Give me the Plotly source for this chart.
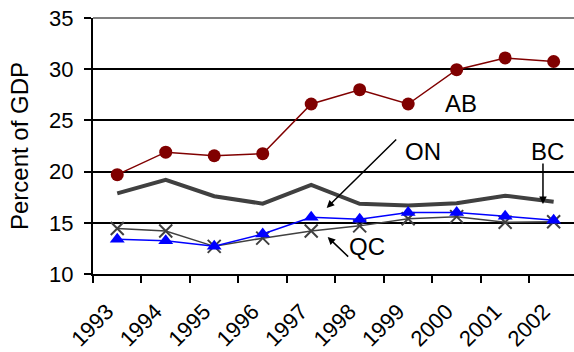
import plotly.graph_objects as go

years = ["1993", "1994", "1995", "1996", "1997", "1998", "1999", "2000", "2001", "2002"]
ab = [19.7, 21.9, 21.55, 21.75, 26.6, 28.0, 26.6, 29.95, 31.1, 30.75]
bc = [17.87, 19.2, 17.6, 16.87, 18.7, 16.85, 16.7, 16.9, 17.65, 17.05]
on = [13.4, 13.25, 12.7, 13.9, 15.55, 15.35, 16.0, 16.0, 15.65, 15.25]
qc = [14.45, 14.2, 12.7, 13.5, 14.2, 14.7, 15.4, 15.6, 15.05, 15.1]

FONT = "Liberation Sans, Arial, sans-serif"

fig = go.Figure()
fig.add_trace(go.Scatter(x=years, y=bc, mode="lines", name="BC",
                         line=dict(color="#404040", width=4)))
fig.add_trace(go.Scatter(x=years, y=qc, mode="lines+markers", name="QC",
                         line=dict(color="#404040", width=1.5),
                         marker=dict(symbol="x-thin-open", size=13,
                                     line=dict(color="#404040", width=2))))
fig.add_trace(go.Scatter(x=years, y=on, mode="lines+markers", name="ON",
                         line=dict(color="#0000FF", width=1.5),
                         marker=dict(symbol="triangle-up", size=13, color="#0000FF")))
fig.add_trace(go.Scatter(x=years, y=ab, mode="lines+markers", name="AB",
                         line=dict(color="#800000", width=1.5),
                         marker=dict(symbol="circle", size=13, color="#800000")))

annos = [
    dict(text="AB", x=7.09, y=26.63),
    dict(text="ON", x=6.30, y=22.01),
    dict(text="BC", x=8.88, y=22.01),
    dict(text="QC", x=5.15, y=12.64),
]
for a in annos:
    fig.add_annotation(x=a["x"], y=a["y"], text=a["text"], showarrow=False,
                       xref="x", yref="y", font=dict(size=24, color="black", family=FONT))

arrows = [
    dict(x=4.32, y=16.45, ax=71, ay=-70),
    dict(x=8.78, y=16.84, ax=0, ay=-42),
    dict(x=4.34, y=13.61, ax=22, ay=21),
]
for a in arrows:
    fig.add_annotation(x=a["x"], y=a["y"], ax=a["ax"], ay=a["ay"], text="",
                       showarrow=True, arrowhead=2, arrowsize=1, arrowwidth=1.5,
                       arrowcolor="black", standoff=0, startstandoff=0,
                       xref="x", yref="y", axref="pixel", ayref="pixel")

fig.add_shape(type="line", xref="paper", yref="paper", x0=0, x1=1, y0=1, y1=1,
              line=dict(color="#808080", width=2), layer="above")

fig.update_layout(
    width=574, height=352,
    margin=dict(l=93, r=0, t=18, b=78, autoexpand=False),
    paper_bgcolor="white", plot_bgcolor="white",
    showlegend=False,
    font=dict(family=FONT, color="black"),
    xaxis=dict(type="category", range=[-0.5, 9.42], tickson="boundaries",
               automargin=False,
               ticks="outside", ticklen=7, tickwidth=2, tickcolor="black",
               showline=True, linewidth=2, linecolor="black", showgrid=False,
               tickangle=-45, tickfont=dict(size=22, family=FONT),
               ticklabelstandoff=14, ticklabelshift=-10),
    yaxis=dict(range=[10, 35], dtick=5, tick0=10, ticks="outside", ticklen=7,
               automargin=False, ticklabeloverflow="allow",
               tickwidth=2, tickcolor="black", showline=True, linewidth=2,
               linecolor="black", showgrid=True, gridcolor="black", gridwidth=2,
               zeroline=False, tickfont=dict(size=22, family=FONT),
               ticklabelstandoff=6,
               title=dict(text="Percent of GDP", font=dict(size=24, family=FONT), standoff=14)),
)

# remove the page's default 8px body margin so the figure fills the window
fig.write_html("out.html", config={"displayModeBar": False},
               post_script="document.body.style.margin='0';")
